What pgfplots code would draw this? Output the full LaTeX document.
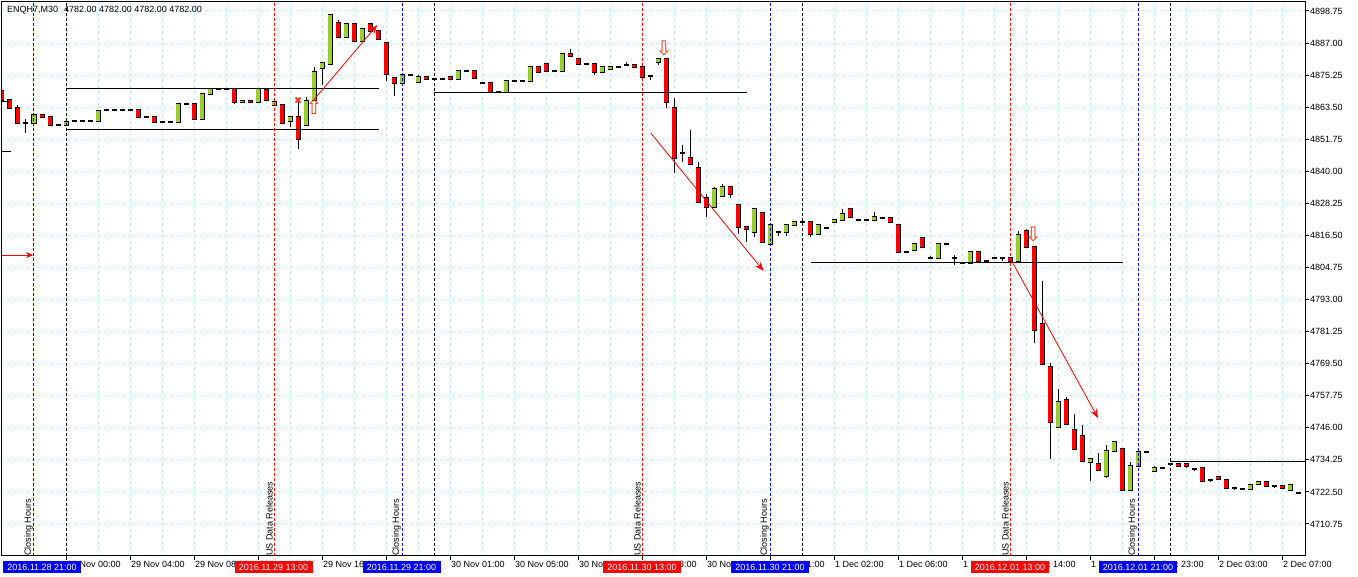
\documentclass[border=0pt]{standalone}
\usepackage{pgfplots}
\pgfplotsset{compat=1.18}
\usepackage{pgfplotstable}
\usepackage{fontspec}
\setmainfont{Liberation Sans}
\newfontfamily\symfont{DejaVu Sans}
\usetikzlibrary{arrows.meta}
\definecolor{bull}{HTML}{9ACD32}
\definecolor{bear}{HTML}{FF0000}
\definecolor{gridc}{HTML}{C4F2F2}
\definecolor{sig}{HTML}{FF3A1A}
\pgfplotstableread{
n o h l c
0 4869.50 4870.25 4865.50 4866.25
1 4866.25 4866.50 4863.25 4863.25
2 4863.25 4864.25 4857.75 4857.75
3 4857.75 4859.25 4854.00 4857.75
4 4857.75 4860.75 4857.75 4860.75
5 4860.75 4860.75 4860.00 4860.00
6 4860.00 4860.00 4857.00 4857.00
7 4857.00 4857.00 4857.00 4857.00
8 4857.00 4858.00 4857.00 4858.00
9 4858.50 4858.50 4858.50 4858.50
10 4858.50 4858.50 4858.50 4858.50
11 4858.50 4858.50 4858.50 4858.50
12 4858.50 4862.00 4858.50 4862.00
13 4862.50 4862.50 4862.50 4862.50
14 4862.50 4862.50 4862.50 4862.50
15 4862.50 4862.50 4862.50 4862.50
16 4862.50 4862.50 4862.50 4862.50
17 4862.50 4862.50 4860.00 4860.00
18 4860.00 4860.00 4860.00 4860.00
19 4860.00 4860.00 4858.00 4858.00
20 4858.00 4858.00 4858.00 4858.00
21 4858.00 4858.00 4858.00 4858.00
22 4858.00 4864.75 4858.00 4864.75
23 4864.75 4864.75 4864.75 4864.75
24 4864.75 4864.75 4859.25 4859.25
25 4859.25 4868.25 4859.25 4868.25
26 4868.25 4870.25 4868.25 4870.25
27 4870.25 4870.25 4870.25 4870.25
28 4870.25 4870.25 4870.25 4870.25
29 4870.25 4870.25 4864.75 4865.50
30 4865.50 4865.75 4865.50 4865.75
31 4865.75 4865.75 4865.50 4865.50
32 4865.50 4870.25 4865.50 4870.25
33 4869.75 4869.75 4866.25 4866.25
34 4864.25 4865.50 4864.25 4865.50
35 4864.25 4864.25 4857.75 4857.75
36 4858.50 4860.25 4856.25 4860.00
37 4860.00 4867.00 4848.25 4851.75
38 4857.00 4867.25 4857.00 4865.75
39 4866.25 4878.25 4866.25 4876.50
40 4877.75 4879.75 4871.75 4879.75
41 4879.25 4897.25 4879.25 4897.25
42 4894.25 4895.50 4889.25 4889.25
43 4889.25 4894.00 4889.25 4894.00
44 4894.00 4894.00 4887.75 4887.75
45 4887.75 4892.25 4887.75 4892.25
46 4894.00 4894.25 4891.50 4891.50
47 4891.50 4891.50 4888.50 4888.50
48 4887.00 4887.00 4873.00 4875.75
49 4874.25 4874.25 4867.50 4872.25
50 4872.25 4875.25 4872.25 4875.25
51 4875.25 4875.25 4875.25 4875.25
52 4872.75 4875.25 4872.75 4874.50
53 4874.50 4874.50 4873.75 4873.75
54 4873.75 4873.75 4873.75 4873.75
55 4873.75 4873.75 4873.75 4873.75
56 4874.50 4874.50 4873.75 4873.75
57 4873.75 4876.75 4873.75 4876.75
58 4876.75 4876.75 4876.75 4876.75
59 4876.75 4876.75 4874.25 4874.25
60 4872.25 4872.25 4872.25 4872.25
61 4872.25 4872.25 4869.00 4869.00
62 4869.00 4869.00 4869.00 4869.00
63 4869.00 4873.00 4869.00 4873.00
64 4873.00 4873.00 4873.00 4873.00
65 4873.00 4873.00 4873.00 4873.00
66 4873.00 4878.25 4873.00 4878.25
67 4878.25 4878.25 4876.50 4876.50
68 4879.25 4879.25 4876.75 4876.75
69 4876.75 4876.75 4876.75 4876.75
70 4876.75 4883.00 4876.75 4883.00
71 4883.00 4884.75 4882.25 4882.25
72 4881.25 4881.25 4879.25 4879.25
73 4879.25 4879.25 4879.25 4879.25
74 4879.25 4879.25 4875.25 4876.50
75 4876.50 4878.25 4876.50 4878.25
76 4877.50 4878.25 4877.50 4878.25
77 4878.25 4878.25 4878.25 4878.25
78 4879.00 4880.00 4879.00 4879.00
79 4879.00 4879.00 4878.25 4878.25
80 4878.25 4878.25 4874.50 4874.50
81 4875.00 4875.00 4873.50 4875.00
82 4880.00 4881.25 4879.00 4881.25
83 4881.25 4881.25 4863.25 4865.50
84 4863.25 4867.00 4839.50 4845.00
85 4846.75 4849.75 4843.50 4846.75
86 4845.00 4855.25 4842.75 4842.75
87 4841.25 4843.50 4828.75 4828.75
88 4830.25 4831.75 4823.25 4827.00
89 4827.00 4834.25 4827.00 4833.50
90 4831.00 4835.25 4831.00 4834.25
91 4834.25 4834.25 4830.25 4831.75
92 4827.75 4827.75 4817.00 4819.50
93 4819.50 4819.50 4814.00 4818.75
94 4817.75 4826.25 4816.00 4826.25
95 4824.75 4824.75 4814.00 4814.00
96 4813.25 4820.25 4813.25 4820.25
97 4817.75 4817.75 4816.25 4817.75
98 4817.75 4820.25 4816.25 4820.25
99 4820.25 4821.50 4820.25 4821.50
100 4821.50 4821.50 4821.50 4821.50
101 4821.50 4821.50 4816.00 4817.00
102 4817.00 4820.25 4817.00 4820.25
103 4819.25 4819.25 4819.25 4819.25
104 4821.50 4822.25 4821.50 4822.25
105 4822.25 4826.25 4822.25 4824.25
106 4826.25 4826.25 4823.25 4823.25
107 4822.25 4822.25 4822.25 4822.25
108 4822.25 4822.25 4822.25 4822.25
109 4822.25 4825.00 4822.25 4823.25
110 4823.00 4823.00 4823.00 4823.00
111 4823.00 4823.00 4821.50 4821.50
112 4820.25 4820.25 4810.50 4810.50
113 4810.50 4810.50 4810.50 4810.50
114 4811.25 4813.25 4811.25 4813.25
115 4815.50 4815.50 4812.25 4812.25
116 4808.25 4809.00 4808.25 4808.25
117 4808.25 4813.25 4808.25 4813.25
118 4813.25 4813.25 4813.25 4813.25
119 4808.25 4809.25 4805.75 4808.25
120 4806.50 4806.50 4806.50 4806.50
121 4806.50 4810.50 4806.50 4810.50
122 4810.50 4810.50 4807.25 4807.25
123 4807.25 4807.25 4807.25 4807.25
124 4808.25 4808.25 4808.25 4808.25
125 4808.25 4808.25 4807.25 4808.25
126 4808.25 4808.25 4807.25 4807.25
127 4807.25 4818.25 4807.25 4816.75
128 4818.25 4818.75 4812.25 4812.25
129 4812.25 4812.25 4777.00 4781.75
130 4784.00 4799.75 4769.50 4769.50
131 4768.25 4769.75 4734.50 4748.25
132 4746.25 4760.25 4746.25 4755.50
133 4756.25 4757.25 4747.50 4747.50
134 4745.25 4751.00 4738.25 4738.25
135 4743.00 4747.00 4733.75 4733.75
136 4733.50 4734.50 4726.50 4734.50
137 4732.75 4736.75 4730.50 4730.50
138 4728.25 4739.75 4727.50 4737.50
139 4737.50 4740.75 4737.50 4740.75
140 4738.25 4738.25 4723.25 4723.25
141 4723.25 4733.50 4723.25 4732.00
142 4732.00 4737.25 4732.00 4737.25
143 4737.25 4737.25 4737.25 4737.25
144 4730.25 4732.00 4730.25 4731.25
145 4731.25 4731.25 4731.25 4731.25
146 4732.75 4732.75 4732.75 4732.75
147 4732.75 4732.75 4732.00 4732.00
148 4732.75 4732.75 4731.25 4732.00
149 4731.00 4731.00 4730.25 4731.00
150 4731.25 4731.25 4726.50 4726.50
151 4727.00 4727.00 4726.25 4727.00
152 4728.00 4728.00 4727.25 4727.25
153 4727.00 4727.00 4724.00 4724.00
154 4724.00 4724.00 4723.25 4724.00
155 4723.50 4723.50 4723.50 4723.50
156 4723.50 4725.00 4723.50 4725.00
157 4725.50 4726.25 4725.50 4726.25
158 4726.25 4726.25 4724.75 4724.75
159 4724.75 4724.75 4724.00 4724.75
160 4724.75 4724.75 4724.00 4724.00
161 4723.25 4725.00 4723.25 4725.00
162 4722.00 4722.50 4721.75 4722.00
}\candles
\begin{document}
\begin{tikzpicture}[font=\fontsize{9}{10}\selectfont]
\useasboundingbox (0,0) rectangle (1358pt,577pt);
\begin{axis}[
  at={(2pt,21pt)}, anchor=south west, scale only axis,
  width=1303pt, height=554pt,
  xmin=0, xmax=162.875, ymin=4699.02, ymax=4902.05,
  axis line style={black, line width=1pt},
  tick style={black, line width=1pt},
  tick align=outside, major tick length=4pt, minor tick length=0pt,
  xtick pos=bottom, ytick pos=right, yticklabel pos=right,
  xtick={8,16,...,160},
  xticklabels={29 Nov 00:00,29 Nov 04:00,29 Nov 08:00,29 Nov 12:00,29 Nov 16:00,29 Nov 20:00,30 Nov 01:00,30 Nov 05:00,30 Nov 09:00,30 Nov 13:00,30 Nov 17:00,30 Nov 21:00,1 Dec 02:00,1 Dec 06:00,1 Dec 10:00,1 Dec 14:00,1 Dec 18:00,1 Dec 23:00,2 Dec 03:00,2 Dec 07:00},
  minor xtick={4,12,...,156},
  ytick={4710.75,4722.50,4734.25,4746.00,4757.75,4769.50,4781.25,4793.00,4804.75,4816.50,4828.25,4840.00,4851.75,4863.50,4875.25,4887.00,4898.75},
  yticklabels={4710.75,4722.50,4734.25,4746.00,4757.75,4769.50,4781.25,4793.00,4804.75,4816.50,4828.25,4840.00,4851.75,4863.50,4875.25,4887.00,4898.75},
  xmajorgrids, xminorgrids, ymajorgrids,
  grid style={gridc, dash pattern=on 3pt off 3pt, line width=1pt},
  minor grid style={gridc, dash pattern=on 3pt off 3pt, line width=1pt},
  ticklabel style={font=\fontsize{9}{10}\selectfont},
  xticklabel style={anchor=north west, inner sep=1pt},
  yticklabel style={anchor=west, inner sep=1pt},
  candle/.style={only marks, mark=*, mark size=0pt, mark options={draw=none, fill=none}, forget plot},
]
% wicks
\addplot[candle,
  error bars/.cd, y dir=plus, y explicit, error mark=none,
  error bar style={draw=black, line width=1pt, line cap=butt}]
  table[x=n, y=l, y error plus expr={\thisrow{h}-\thisrow{l}}] \candles;
% body outline
\addplot[candle,
  error bars/.cd, y dir=plus, y explicit, error mark=none,
  error bar style={draw=black, line width=5pt, line cap=butt}]
  table[x=n, y expr={min(\thisrow{o},\thisrow{c})-0.35}, y error plus expr={abs(\thisrow{o}-\thisrow{c})+0.7}] \candles;
% bull fill
\addplot[candle,
  error bars/.cd, y dir=plus, y explicit, error mark=none,
  error bar style={draw=bull, line width=3.2pt, line cap=butt}]
  table[x=n, y=o, y error plus expr={max(\thisrow{c}-\thisrow{o},0)}] \candles;
% bear fill
\addplot[candle,
  error bars/.cd, y dir=plus, y explicit, error mark=none,
  error bar style={draw=bear, line width=3.2pt, line cap=butt}]
  table[x=n, y=c, y error plus expr={max(\thisrow{o}-\thisrow{c},0)}] \candles;
% range lines
\addplot[black, line width=1pt] coordinates {(8,4870.4) (47.1,4870.4)};
\addplot[black, line width=1pt] coordinates {(8,4855.15) (47.1,4855.15)};
\addplot[black, line width=1pt] coordinates {(54,4869.0) (93.1,4869.0)};
\addplot[black, line width=1pt] coordinates {(101.1,4806.5) (140.1,4806.5)};
\addplot[black, line width=1pt] coordinates {(146,4733.75) (163,4733.75)};
\addplot[black, line width=1pt] coordinates {(0,4865.4) (1,4865.4)};
\addplot[black, line width=1pt] coordinates {(0,4847.1) (1.1,4847.1)};
% event lines
\addplot[blue, line width=1pt, dash pattern=on 3pt off 2pt] coordinates {(4,4690) (4,4910)};
\addplot[blue, line width=1pt, dash pattern=on 3pt off 2pt] coordinates {(50,4690) (50,4910)};
\addplot[blue, line width=1pt, dash pattern=on 3pt off 2pt] coordinates {(96,4690) (96,4910)};
\addplot[blue, line width=1pt, dash pattern=on 3pt off 2pt] coordinates {(142,4690) (142,4910)};
\addplot[red, line width=1pt, dash pattern=on 3pt off 2pt] coordinates {(34,4690) (34,4910)};
\addplot[red, line width=1pt, dash pattern=on 3pt off 2pt] coordinates {(80,4690) (80,4910)};
\addplot[red, line width=1pt, dash pattern=on 3pt off 2pt] coordinates {(126,4690) (126,4910)};
\addplot[black, line width=1pt, dash pattern=on 3pt off 2pt] coordinates {(8,4690) (8,4910)};
\addplot[black, line width=1pt, dash pattern=on 3pt off 2pt] coordinates {(54,4690) (54,4910)};
\addplot[black, line width=1pt, dash pattern=on 3pt off 2pt] coordinates {(100,4690) (100,4910)};
\addplot[black, line width=1pt, dash pattern=on 3pt off 2pt] coordinates {(146,4690) (146,4910)};
% trend arrows
\addplot[red, line width=0.8pt, -{Stealth[length=9pt,width=7pt]}] coordinates {(39,4866.25) (46.9,4893.6)};
\addplot[red, line width=0.8pt, -{Stealth[length=9pt,width=7pt]}] coordinates {(81.1,4854.0) (95.2,4803.5)};
\addplot[red, line width=0.8pt, -{Stealth[length=9pt,width=7pt]}] coordinates {(126,4808.25) (137,4749.6)};
\addplot[red, line width=1pt, -{Stealth[length=7pt,width=6pt]}] coordinates {(-0.3,4809.3) (3.9,4809.3)};
% signals
\addplot[only marks, mark=x, mark size=3.5pt, sig, line width=1.8pt] coordinates {(37,4866.1)};
\addplot[only marks, mark=text, text mark={\textcolor{sig}{\fontsize{20}{20}\symfont ⇧}}] coordinates {(39,4863.4)};
\addplot[only marks, mark=text, text mark={\textcolor{sig}{\fontsize{20}{20}\symfont ⇩}}] coordinates {(82.75,4885.2)};
\addplot[only marks, mark=text, text mark={\textcolor{sig}{\fontsize{20}{20}\symfont ⇩}}] coordinates {(128.9,4817.0)};
\end{axis}
% header
\node[anchor=west, inner sep=0pt] at (7pt,567pt) {ENQH7,M30\hspace{6pt}4782.00 4782.00 4782.00 4782.00};
% rotated event texts
\foreach \xx in {33,401,769,1137} {\node[rotate=90, anchor=south west, inner sep=0pt] at (\xx pt,21pt) {Closing Hours};}
\foreach \xx in {273,641,1009} {\node[rotate=90, anchor=south west, inner sep=0pt] at (\xx pt,21pt) {US Data Releases};}
% time boxes
\tikzset{tb/.style={text=white, inner sep=0pt, minimum width=78pt, minimum height=12pt}}
\node[tb, fill=blue] at (42pt,10pt) {2016.11.28 21:00};
\node[tb, fill=red] at (273.5pt,10pt) {2016.11.29 13:00};
\node[tb, fill=blue] at (401.5pt,10pt) {2016.11.29 21:00};
\node[tb, fill=red] at (642pt,10pt) {2016.11.30 13:00};
\node[tb, fill=blue] at (770pt,10pt) {2016.11.30 21:00};
\node[tb, fill=red] at (1010pt,10pt) {2016.12.01 13:00};
\node[tb, fill=blue] at (1138pt,10pt) {2016.12.01 21:00};
\end{tikzpicture}
\end{document}
